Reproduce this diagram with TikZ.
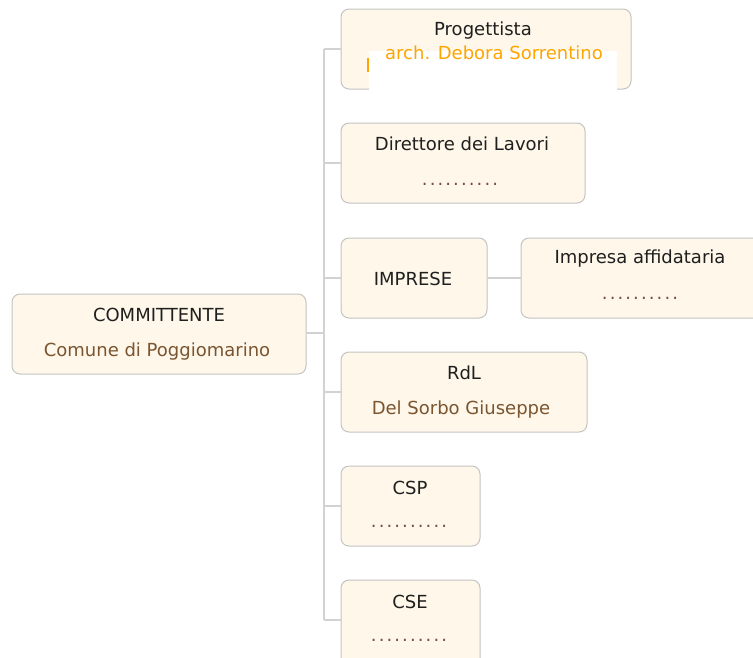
\documentclass[tikz,border=0pt]{standalone}
\usepackage{fontspec}
\setmainfont{DejaVu Sans}
\definecolor{boxfill}{HTML}{FEF7EA}
\definecolor{boxline}{HTML}{C4C4C4}
\definecolor{conn}{HTML}{D2D2D2}
\definecolor{brown}{HTML}{7A5530}
\definecolor{dotc}{HTML}{7A4A45}
\definecolor{orng}{HTML}{FFA500}
\newcommand{\dotrow}{.\kern2.1pt.\kern2.1pt.\kern2.1pt.\kern2.1pt.\kern2.1pt.\kern2.1pt.\kern2.1pt.\kern2.1pt.\kern2.1pt.}
\begin{document}
\begin{tikzpicture}[x=1pt,y=-1pt,
  card/.style={draw=boxline,fill=boxfill,rounded corners=8pt,line width=1pt},
  ttl/.style={inner sep=0pt,font=\fontsize{18}{20}\selectfont,text=black!88},
  sub/.style={inner sep=0pt,font=\fontsize{18}{20}\selectfont,text=brown},
  dts/.style={inner sep=0pt,font=\fontsize{18}{20}\selectfont,text=dotc},
  link/.style={draw=conn,line width=1.3pt}]
\useasboundingbox (0,0) rectangle (753,657);
\fill[white] (0,0) rectangle (753,657);
% boxes
\draw[card] (341,9) rectangle (631,89);
\draw[card] (341,123) rectangle (585,203);
\draw[card] (341,238) rectangle (487,318);
\draw[card] (521,238) rectangle (775,318);
\draw[card] (12,294) rectangle (306,374);
\draw[card] (341,352) rectangle (587,432);
\draw[card] (341,466) rectangle (480,546);
\draw[card] (341,580) rectangle (480,680);
% anchor coordinates
\coordinate (prog) at (341,49);
\coordinate (dir) at (341,163);
\coordinate (impL) at (341,278);
\coordinate (impR) at (487,278);
\coordinate (aff) at (521,278);
\coordinate (comm) at (306,333);
\coordinate (rdl) at (341,392);
\coordinate (csp) at (341,506);
\coordinate (cse) at (341,620);
\coordinate (bus) at (324,333);
% connectors
\draw[link] (comm) -- (bus);
\draw[link] (bus |- prog) -- (bus |- cse);
\foreach \c in {prog,dir,impL,rdl,csp,cse} \draw[link] (bus |- \c) -- (\c);
\draw[link] (impR) -- (aff);
% white overlay on Progettista
\fill[white] (369,51) rectangle (617,91);
\fill[orng] (366.5,58) rectangle (368.5,72);
% texts
\node[ttl] (t1) at (483,31) {Progettista};
\node[inner sep=0pt,font=\fontsize{18}{20}\selectfont,text=orng] (t1b) at (494,53) {arch. Debora Sorrentino};
\node[ttl] (t2) at (462,144) {Direttore dei Lavori};
\node[dts] (t2b) at (460,184) {\dotrow};
\node[ttl] (t3) at (413,279) {IMPRESE};
\node[ttl] (t4) at (640,259) {Impresa affidataria};
\node[dts] (t4b) at (640,298) {\dotrow};
\node[ttl] (t5) at (159,315) {COMMITTENTE};
\node[sub] (t5b) at (157,352) {Comune di Poggiomarino};
\node[ttl] (t6) at (464,373) {RdL};
\node[sub] (t6b) at (461,410) {Del Sorbo Giuseppe};
\node[ttl] (t7) at (410,488) {CSP};
\node[dts] (t7b) at (409,526) {\dotrow};
\node[ttl] (t8) at (410,602) {CSE};
\node[dts] (t8b) at (409,640) {\dotrow};
\end{tikzpicture}
\end{document}
